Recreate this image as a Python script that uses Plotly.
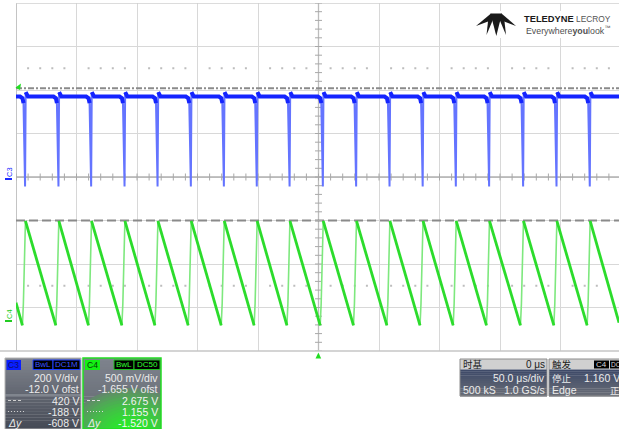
import numpy as np
import plotly.graph_objects as go

# ---------------- acquisition settings ----------------
TIME_PER_DIV_US = 50.0
H_DIVS = 10
V_DIVS = 8
C3_VOLTS_PER_DIV = 200.0
C3_OFFSET_V = -12.0
C4_VOLTS_PER_DIV = 0.5
C4_OFFSET_V = -1.655

# ---------------- waveform features ----------------
# C3 (switch node) falling-edge times in microseconds, one per cycle
C3_EDGE_TIMES_US = [-243.6, -216.0, -189.0, -161.4, -134.1, -106.6, -79.3,
                    -52.1, -25.0, 2.5, 30.0, 57.6, 85.0, 112.4, 139.9,
                    168.0, 195.6, 223.1]
C3_HIGH_V = 382.0
C3_DROOP_V = 352.0
C3_LOW_V = -32.0
C3_OVERSHOOT_V = 402.0

# C4 (current-sense ramp) levels
C4_PEAK_V = 1.15
C4_VALLEY_V = -0.05
C4_LEFT_V = 0.21
C4_RIGHT_V = -0.02

# horizontal cursors (values shown for each channel)
CURSOR_C3_V = [420.0, -188.0]
CURSOR_C4_V = [2.675, 1.155]

# ---------------- page geometry ----------------
W, H = 619, 429
GRID_L, GRID_T, GRID_B = 16, 3, 351
DIV_W = 60.5
X_LEFT = -TIME_PER_DIV_US * H_DIVS / 2
X_RIGHT = X_LEFT + TIME_PER_DIV_US * (W - GRID_L) / DIV_W


def c3_div(v):
    return (v + C3_OFFSET_V) / C3_VOLTS_PER_DIV


def c4_div(v):
    return (v + C4_OFFSET_V) / C4_VOLTS_PER_DIV


def pxx(x):
    return x / W


def pxy(y):
    return 1 - y / H


# ---------------- C3 trace ----------------
c3_flat_t, c3_flat_v = [X_LEFT], [C3_HIGH_V]
c3_edge_t, c3_edge_v = [], []
for t in C3_EDGE_TIMES_US:
    c3_flat_t += [t - 3.0, t - 1.0, t - 0.2, None, t + 1.6, t + 2.4, t + 3.5]
    c3_flat_v += [C3_HIGH_V, C3_HIGH_V - 8, C3_DROOP_V, None,
                  C3_OVERSHOOT_V, C3_HIGH_V + 5, C3_HIGH_V]
    c3_edge_t += [t - 0.2, t + 0.5, t + 1.1, t + 1.6, None]
    c3_edge_v += [C3_DROOP_V, C3_LOW_V, C3_LOW_V, C3_OVERSHOOT_V, None]
c3_flat_t.append(X_RIGHT)
c3_flat_v.append(C3_HIGH_V)

# ---------------- C4 trace ----------------
c4_ramp_t, c4_ramp_v = [X_LEFT], [C4_LEFT_V]
c4_edge_t, c4_edge_v = [], []
for t in C3_EDGE_TIMES_US:
    c4_ramp_t += [t - 1.1, None, t + 1.4]
    c4_ramp_v += [C4_VALLEY_V, None, C4_PEAK_V]
    c4_edge_t += [t - 1.1, t - 0.3, t + 1.4, None]
    c4_edge_v += [C4_VALLEY_V, C4_VALLEY_V + 0.25, C4_PEAK_V, None]
c4_ramp_t.append(X_RIGHT)
c4_ramp_v.append(C4_RIGHT_V)


def to_div(vals, conv):
    return [None if v is None else conv(v) for v in vals]


fig = go.Figure()

# graticule minor ticks on the centre cross and dotted rows
minor_x = [X_LEFT + i * TIME_PER_DIV_US / 5 for i in range(H_DIVS * 5 + 1)]
minor_y = [-V_DIVS / 2 + j * 0.2 for j in range(V_DIVS * 5 + 1)]
fig.add_trace(go.Scatter(x=minor_x, y=[0] * len(minor_x), mode="markers",
                         marker=dict(symbol="line-ns", size=5,
                                     line=dict(width=1, color="#a8a8a8")),
                         hoverinfo="skip"))
fig.add_trace(go.Scatter(x=[0] * len(minor_y), y=minor_y, mode="markers",
                         marker=dict(symbol="line-ew", size=5,
                                     line=dict(width=1, color="#a8a8a8")),
                         hoverinfo="skip"))
dot_x = [x for i, x in enumerate(minor_x) if i % 5 != 0]
for yrow in (2.5, -2.5):
    fig.add_trace(go.Scatter(x=dot_x, y=[yrow] * len(dot_x), mode="markers",
                             marker=dict(symbol="square", size=2,
                                         color="#bdbdbd"),
                             hoverinfo="skip"))

# waveforms
fig.add_trace(go.Scatter(x=c3_edge_t, y=to_div(c3_edge_v, c3_div), mode="lines",
                         line=dict(color="#6474ff", width=2),
                         hoverinfo="skip"))
fig.add_trace(go.Scatter(x=c3_flat_t, y=to_div(c3_flat_v, c3_div), mode="lines",
                         line=dict(color="#1424ff", width=4),
                         hoverinfo="skip"))
fig.add_trace(go.Scatter(x=c4_edge_t, y=to_div(c4_edge_v, c4_div), mode="lines",
                         line=dict(color="#7ee87e", width=1.6),
                         hoverinfo="skip"))
fig.add_trace(go.Scatter(x=c4_ramp_t, y=to_div(c4_ramp_v, c4_div), mode="lines",
                         line=dict(color="#2cdc2c", width=2.8),
                         hoverinfo="skip"))

shapes = []
ann = []

# graticule borders, centre cross and cursors
shapes.append(dict(type="line", xref="x", yref="y", x0=X_LEFT, x1=X_LEFT,
                   y0=-4, y1=4, line=dict(color="#c4c4c4", width=2),
                   layer="between"))
shapes.append(dict(type="line", xref="x", yref="y", x0=X_LEFT, x1=X_RIGHT,
                   y0=4, y1=4, line=dict(color="#d0d0d0", width=1.5),
                   layer="between"))
shapes.append(dict(type="line", xref="paper", yref="paper", x0=0, x1=1,
                   y0=pxy(GRID_B), y1=pxy(GRID_B),
                   line=dict(color="#c6c6c6", width=1.5)))
shapes.append(dict(type="line", xref="x", yref="y", x0=0, x1=0, y0=-4, y1=4,
                   line=dict(color="#bcbcbc", width=1.3), layer="between"))
shapes.append(dict(type="line", xref="x", yref="y", x0=X_LEFT, x1=X_RIGHT,
                   y0=0, y1=0, line=dict(color="#b0b0b0", width=1.3),
                   layer="between"))
cur_div = [c3_div(v) for v in CURSOR_C3_V]
shapes.append(dict(type="line", xref="x", yref="y", x0=X_LEFT, x1=X_RIGHT,
                   y0=cur_div[0], y1=cur_div[0],
                   line=dict(color="#8a8a8a", width=2, dash="6px,2px,2px,2px"),
                   layer="between"))
shapes.append(dict(type="line", xref="x", yref="y", x0=X_LEFT, x1=X_RIGHT,
                   y0=cur_div[1], y1=cur_div[1],
                   line=dict(color="#8a8a8a", width=2, dash="9px,4px"),
                   layer="between"))


def rect(x0, y0, x1, y1, fill, line_color=None, lw=1):
    shapes.append(dict(type="rect", xref="paper", yref="paper",
                       x0=pxx(x0), x1=pxx(x1), y0=pxy(y1), y1=pxy(y0),
                       fillcolor=fill,
                       line=dict(color=line_color or fill,
                                 width=lw if line_color else 0)))


def poly(points, fill):
    d = "M " + " L ".join(f"{pxx(x):.5f},{pxy(y):.5f}" for x, y in points) + " Z"
    shapes.append(dict(type="path", xref="paper", yref="paper", path=d,
                       fillcolor=fill, line=dict(width=0), layer="above"))


def hline(x0, x1, y, color, width=1, dash="solid"):
    shapes.append(dict(type="line", xref="paper", yref="paper",
                       x0=pxx(x0), x1=pxx(x1), y0=pxy(y), y1=pxy(y),
                       line=dict(color=color, width=width, dash=dash)))


def text(s, x, y, size=10.5, color="#ececec", anchor="right",
         family="Liberation Sans", angle=0):
    ann.append(dict(text=s, x=pxx(x), y=pxy(y), xref="paper", yref="paper",
                    showarrow=False, xanchor=anchor, yanchor="middle",
                    textangle=angle, borderpad=0,
                    font=dict(family=family, size=size, color=color)))


def mix(c0, c1, t):
    return "rgb(%d,%d,%d)" % tuple(int(a + (b - a) * t) for a, b in zip(c0, c1))


def vgradient(x0, y0, x1, y1, c0, c1, steps=24):
    hs = (y1 - y0) / steps
    for i in range(steps):
        rect(x0, y0 + i * hs, x1, y0 + (i + 1) * hs + 0.4,
             mix(c0, c1, i / (steps - 1)))


# ---------------- C3 descriptor box ----------------
vgradient(5, 358, 81, 429, (128, 132, 142), (70, 75, 86))
shapes.append(dict(type="rect", xref="paper", yref="paper", x0=pxx(5),
                   x1=pxx(81), y0=pxy(429), y1=pxy(358),
                   line=dict(color="#b4b4b4", width=1)))
hline(5, 81, 395, "#a0a4ac", 1)
rect(6.5, 360, 21, 370, "#0a1eff")
text("C3", 13.8, 365, size=8.5, color="#0a1070", anchor="center")
rect(33, 360, 53, 369.5, "#000000", "#2040ff", 1)
rect(53, 360, 80, 369.5, "#000000", "#2040ff", 1)
text("BwL", 43, 364.8, size=8, color="#3a54ff", anchor="center")
text("DC1M", 66.5, 364.8, size=8, color="#3a54ff", anchor="center")
text("200 V/div", 79.5, 377.5)
text("-12.0 V ofst", 79.5, 388.5)
hline(8, 22, 400.5, "#d0d0d0", 1, "3px,2px")
text("%.0f V" % CURSOR_C3_V[0], 79.5, 400.5)
hline(8, 24, 411.5, "#d0d0d0", 1, "1px,2px")
text("%.0f V" % CURSOR_C3_V[1], 79.5, 411.5)
text("<i>Δy</i>", 7, 422.5, anchor="left")
text("%.0f V" % (CURSOR_C3_V[1] - CURSOR_C3_V[0]), 79.5, 422.5)

# ---------------- C4 descriptor box ----------------
vgradient(83, 358, 161, 429, (126, 131, 141), (96, 102, 110))
gray = (110, 118, 120)
green = (40, 238, 40)
cx, cy = 130, 434
n = 16
for i in range(n):
    f = 1 - i / n
    rx, ry = 62 * f, 46 * f
    ang = np.linspace(0, 2 * np.pi, 60)
    xs = np.clip(cx + rx * np.cos(ang), 83.5, 160.5)
    ys = np.clip(cy + ry * np.sin(ang), 358.5, 429)
    t = (i + 1) / n
    d = "M " + " L ".join(f"{pxx(a):.5f},{pxy(b):.5f}" for a, b in zip(xs, ys)) + " Z"
    shapes.append(dict(type="path", xref="paper", yref="paper", path=d,
                       fillcolor=mix(gray, green, min(1, t ** 0.7 * 1.1)),
                       line=dict(width=0)))
shapes.append(dict(type="rect", xref="paper", yref="paper", x0=pxx(83),
                   x1=pxx(161), y0=pxy(429), y1=pxy(358),
                   line=dict(color="#22dd22", width=1.5)))
rect(85, 360, 100, 370, "#14f014")
text("C4", 92.5, 365, size=8.5, color="#064006", anchor="center")
rect(114, 360, 134, 369.5, "#000000", "#20c020", 1)
rect(134, 360, 160, 369.5, "#000000", "#20c020", 1)
text("BwL", 124, 364.8, size=8, color="#30ff30", anchor="center")
text("DC50", 147, 364.8, size=8, color="#30ff30", anchor="center")
text("500 mV/div", 158.5, 377.5)
text("%.3f V ofst" % C4_OFFSET_V, 158.5, 388.5)
hline(87, 101, 400.5, "#e0e0e0", 1, "3px,2px")
text("%.3f V" % CURSOR_C4_V[0], 158.5, 400.5, color="#f4f4f4")
hline(87, 103, 411.5, "#e0e0e0", 1, "1px,2px")
text("%.3f V" % CURSOR_C4_V[1], 158.5, 411.5, color="#f4f4f4")
text("<i>Δy</i>", 86, 422.5, anchor="left")
text("%.3f V" % (CURSOR_C4_V[1] - CURSOR_C4_V[0]), 158.5, 422.5, color="#f4f4f4")

# ---------------- timebase box ----------------
CJK = "Noto Sans CJK SC"
rect(460, 359, 547, 369.5, "#d0d0d0")
vgradient(460, 369.5, 547, 396, (62, 74, 104), (104, 108, 118), steps=14)
shapes.append(dict(type="rect", xref="paper", yref="paper", x0=pxx(460),
                   x1=pxx(547), y0=pxy(396), y1=pxy(359),
                   line=dict(color="#8c8c8c", width=1)))
text("时基", 462, 364.3, size=9.5, color="#202020", anchor="left", family=CJK)
text("0 μs", 546, 364.3, size=10, color="#202020")
text("%.1f μs/div" % TIME_PER_DIV_US, 546, 377.5)
text("500 kS", 462, 389.5, anchor="left")
text("1.0 GS/s", 546, 389.5)

# ---------------- trigger box ----------------
rect(549, 359, 619, 369.5, "#d0d0d0")
vgradient(549, 369.5, 619, 396, (62, 74, 104), (104, 108, 118), steps=14)
shapes.append(dict(type="rect", xref="paper", yref="paper", x0=pxx(549),
                   x1=pxx(622), y0=pxy(396), y1=pxy(359),
                   line=dict(color="#8c8c8c", width=1)))
text("触发", 551, 364.3, size=9.5, color="#202020", anchor="left", family=CJK)
rect(594, 360.5, 609, 368.5, "#000000")
rect(610, 360.5, 622, 368.5, "#000000")
text("C4", 601.5, 364.5, size=8, color="#d8d8d8", anchor="center")
text("DC", 609.8, 364.5, size=6.5, color="#d8d8d8", anchor="left")
text("停止", 551, 377.5, size=9.5, anchor="left", family=CJK)
text("1.160 V", 583, 377.5, anchor="left")
text("Edge", 551, 389.5, anchor="left")
text("正", 608.5, 389.5, size=9.5, anchor="left", family=CJK)

# ---------------- channel and trigger markers ----------------
text("C3", 9, 172, size=7.5, color="#1a2aff", anchor="center", angle=-90)
hline(5, 12, 179, "#1a2aff", 2)
text("C4", 9, 314, size=7.5, color="#22cc22", anchor="center", angle=-90)
hline(5, 12, 321, "#22cc22", 2)
poly([(315.5, 358.5), (321.2, 358.5), (318.4, 352.5)], "#22dd22")
poly([(15.5, 87.5), (21, 83.5), (20, 90)], "#22dd22")

# ---------------- brand mark ----------------
rect(470, 11, 617, 38, "#ffffff")
logo = [
    [(476, 26), (491, 13.5), (493.5, 19.5)],
    [(516, 26), (501.5, 13.5), (499, 19.5)],
    [(490.5, 13.5), (502, 13.5), (496.3, 36)],
    [(488.5, 17), (493, 19.5), (486.5, 35)],
    [(504, 17), (499.5, 19.5), (506, 35)],
]
for p in logo:
    poly(p, "#1a1a1a")
text("<b>TELEDYNE</b>", 523, 18.5, size=9.3, color="#1a1a1a", anchor="left")
text("LECROY", 575, 18.5, size=8.4, color="#555555", anchor="left")
text("Everywhere<b>you</b>look<sup>™</sup>", 524.5, 30.5, size=8.8,
     color="#505050", anchor="left")

fig.update_layout(
    width=W, height=H,
    margin=dict(l=0, r=0, t=0, b=0, pad=0, autoexpand=False),
    paper_bgcolor="#ffffff", plot_bgcolor="#ffffff",
    showlegend=False,
    xaxis=dict(range=[X_LEFT, X_RIGHT], domain=[GRID_L / W, 1],
               tick0=X_LEFT, dtick=TIME_PER_DIV_US, showgrid=True,
               gridcolor="#d8d8d8", gridwidth=1.3, zeroline=False,
               showticklabels=False, ticks="", fixedrange=True),
    yaxis=dict(range=[-V_DIVS / 2, V_DIVS / 2],
               domain=[1 - GRID_B / H, 1 - GRID_T / H],
               tick0=0, dtick=1, showgrid=True, gridcolor="#d8d8d8",
               gridwidth=1.3, zeroline=False, showticklabels=False, ticks="",
               fixedrange=True),
    shapes=shapes, annotations=ann,
)

fig.write_html("out.html", config={"displayModeBar": False})
